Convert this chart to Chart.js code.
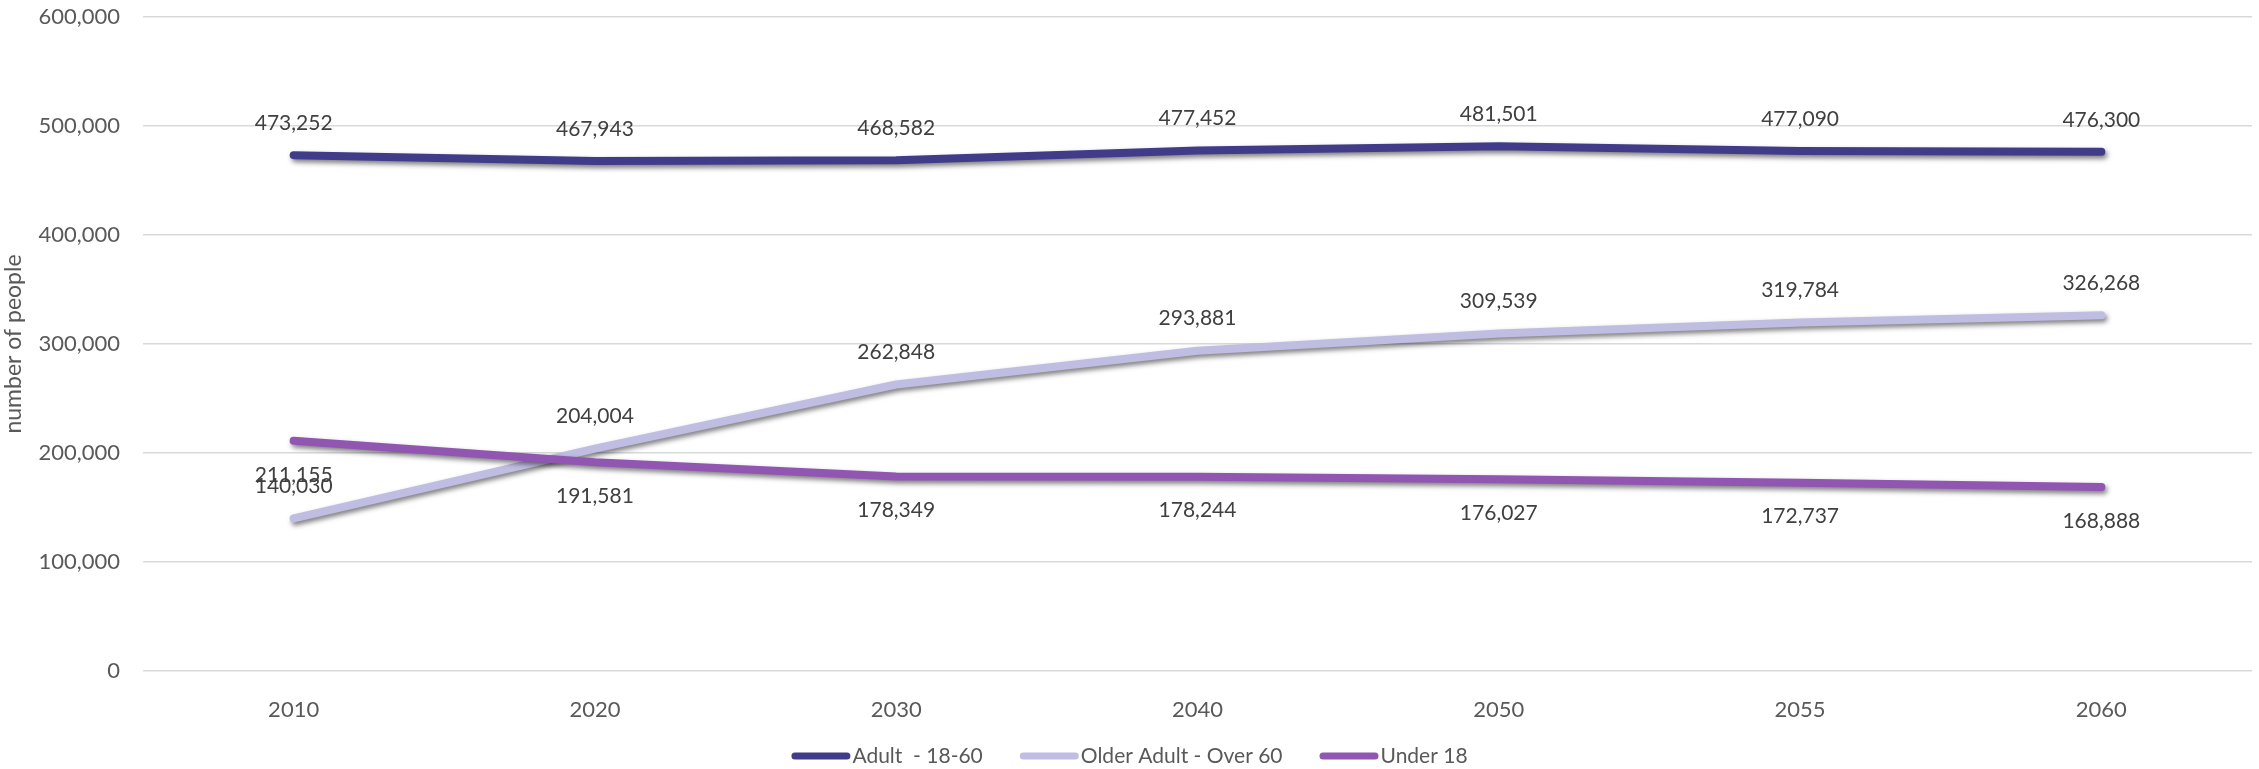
<!DOCTYPE html>
<html>
<head>
<meta charset="utf-8">
<script src="https://cdn.jsdelivr.net/npm/chart.js@4"></script>
<style>
	html, body { margin: 0; padding: 0; background: #ffffff; }
	#wrap { width: 2259px; height: 769px; }
</style>
</head>
<body>
<div id="wrap"><canvas id="graphique"></canvas></div>
<script>
const annees = ["2010", "2020", "2030", "2040", "2050", "2055", "2060"];
const adultes = [473252, 467943, 468582, 477452, 481501, 477090, 476300];
const seniors = [140030, 204004, 262848, 293881, 309539, 319784, 326268];
const jeunes = [211155, 191581, 178349, 178244, 176027, 172737, 168888];
const nomsSeries = ["Adult  - 18-60", "Older Adult - Over 60", "Under 18"];
const couleurs = ["#403c8a", "#c0bde2", "#9156b1"];
// decalage vertical des etiquettes (negatif = au-dessus)
const decalages = [-32, -32, 34];

const police = "Lato, 'Open Sans', sans-serif";

// ombre portee sous les courbes
const ombre = {
	id: "ombre",
	beforeDatasetsDraw(chart) {
		const ctx = chart.ctx;
		ctx.save();
		ctx.shadowColor = "rgba(0,0,0,0.5)";
		ctx.shadowBlur = 5;
		ctx.shadowOffsetX = 2;
		ctx.shadowOffsetY = 3;
	},
	afterDatasetsDraw(chart) {
		chart.ctx.restore();
	},
};

// etiquettes de valeurs
const etiquettes = {
	id: "etiquettes",
	afterDraw(chart) {
		const ctx = chart.ctx;
		ctx.save();
		ctx.font = "21px " + police;
		ctx.fillStyle = "#404040";
		ctx.textAlign = "center";
		ctx.textBaseline = "middle";
		chart.data.datasets.forEach((ds, i) => {
			const meta = chart.getDatasetMeta(i);
			meta.data.forEach((pt, j) => {
				ctx.fillText(ds.data[j].toLocaleString("en-US"), pt.x, pt.y + decalages[i]);
			});
		});
		ctx.restore();
	},
};

// legende dessinee a la main (trait arrondi colle au texte)
const legende = {
	id: "legende",
	afterDraw(chart) {
		const ctx = chart.ctx;
		const y = 756;
		const largeurTrait = 59;
		const ecart = 37;
		ctx.save();
		ctx.font = "21px " + police;
		ctx.textBaseline = "middle";
		const largeurs = nomsSeries.map((t) => largeurTrait + 2 + ctx.measureText(t).width);
		const total = largeurs.reduce((a, b) => a + b, 0) + ecart * (nomsSeries.length - 1);
		let x = chart.width / 2 - total / 2;
		nomsSeries.forEach((t, i) => {
			ctx.strokeStyle = couleurs[i];
			ctx.lineWidth = 7;
			ctx.lineCap = "round";
			ctx.beginPath();
			ctx.moveTo(x + 3.5, y);
			ctx.lineTo(x + largeurTrait - 3.5, y);
			ctx.stroke();
			ctx.fillStyle = "#595959";
			ctx.fillText(t, x + largeurTrait + 2, y);
			x += largeurs[i] + ecart;
		});
		ctx.restore();
	},
};

function serie(i, valeurs, ordre) {
	return {
		label: nomsSeries[i],
		data: valeurs,
		borderColor: couleurs[i],
		backgroundColor: couleurs[i],
		borderWidth: 8,
		borderCapStyle: "round",
		borderJoinStyle: "round",
		pointRadius: 0,
		tension: 0,
		order: ordre,
	};
}

const data = {
	labels: annees,
	datasets: [serie(0, adultes, 1), serie(1, seniors, 2), serie(2, jeunes, 0)],
};

const config = {
	type: "line",
	data: data,
	options: {
		responsive: true,
		maintainAspectRatio: false,
		animation: false,
		layout: { padding: { top: 0, right: 7, left: 0, bottom: 48 } },
		plugins: {
			tooltip: { enabled: false },
			legend: { display: false },
		},
		scales: {
			x: {
				offset: true,
				grid: { display: false },
				border: { display: false },
				ticks: { font: { family: police, size: 22 }, color: "#595959", padding: 18 },
				afterFit(scale) {
					scale.height = 50;
				},
			},
			y: {
				min: 0,
				max: 600000,
				ticks: {
					stepSize: 100000,
					font: { family: police, size: 22 },
					color: "#595959",
					padding: 23,
					callback: (v) => v.toLocaleString("en-US"),
				},
				grid: { color: "#d9d9d9", lineWidth: 1.5, drawTicks: false },
				border: { display: false },
				title: {
					display: true,
					text: "number of people",
					font: { family: police, size: 23 },
					color: "#595959",
					padding: 0,
				},
				afterFit(scale) {
					scale.width = 143;
					scale.paddingTop = 17;
				},
			},
		},
	},
	plugins: [ombre, etiquettes, legende],
};

new Chart(document.querySelector("#graphique"), config);
</script>
</body>
</html>
